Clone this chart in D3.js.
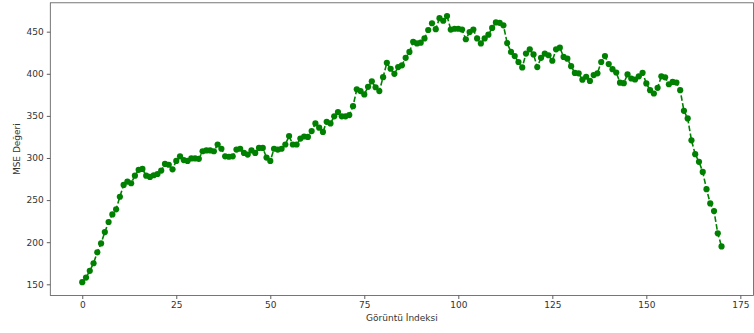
<!DOCTYPE html>
<html>
<head>
<meta charset="utf-8">
<script src="https://cdn.jsdelivr.net/npm/d3@7"></script>
<style>
  html, body { margin: 0; padding: 0; background: #fff; }
  svg { display: block; }
  .tick text { font-family: "DejaVu Sans", sans-serif; font-size: 9px; fill: #333; }
  .axis-label { font-family: "DejaVu Sans", sans-serif; font-size: 9px; fill: #333; }
</style>
</head>
<body>
<svg id="chart" width="754" height="333"></svg>
<script>
// MSE value for each image index (0 .. 170)
const mseValues = [
  152.5, 158, 166, 175, 188, 198.5, 212, 224, 233, 239,
  254, 268, 272, 270, 279, 286, 287, 279, 277.5, 279.5,
  281, 285, 293, 292, 286.5, 296.5, 302, 297.5, 296.5, 299.5,
  299.5, 299, 308, 309, 309, 308, 316, 311, 302, 301.5,
  302, 310, 311, 306, 304, 309, 306, 312, 312, 300.5,
  296.5, 311, 310, 311, 316, 326, 316, 316, 323, 325.5,
  325, 332, 341, 336, 331, 343, 341, 349.5, 354.5, 349.5,
  349.5, 351, 361.5, 381.5, 379.5, 375.5, 384.5, 391, 384, 379.5,
  396, 413, 406, 400, 408, 410, 419, 426, 438, 436,
  437, 442, 452, 460, 453, 466, 463, 468.5, 452.5, 453.5,
  453.5, 452.5, 441, 449.5, 452.5, 442, 436, 442, 446.5, 454.5,
  461, 460.5, 457.5, 436.5, 426, 421, 414, 407.5, 424, 429,
  423, 408, 419, 424, 422, 415.5, 429, 431, 420, 418,
  409, 401, 400.5, 393, 396.5, 391.5, 398.5, 400.5, 414, 421,
  411.5, 405.5, 401.5, 389.5, 388.8, 399.3, 394.4, 393.2, 397, 401.2,
  388.5, 380.5, 376.6, 383.3, 397, 395.8, 387.6, 390.3, 389.6, 380.5,
  356, 347, 321, 304.5, 295.5, 283.5, 263, 246, 237, 210.5,
  195
];
const imageIndex = mseValues.map((_, i) => i);

const xTicks = [0, 25, 50, 75, 100, 125, 150, 175];
const yTicks = [150, 200, 250, 300, 350, 400, 450];

const xLabel = "Görüntü İndeksi";
const yLabel = "MSE Değeri";
const lineColor = "#008000";

const svg = d3.select("#chart");

const plot = { left: 50.3, right: 753.5, top: 2.8, bottom: 295.5 };

// 5% padding on both axes around the data extent
const xMin = d3.min(imageIndex), xMax = d3.max(imageIndex);
const xPad = (xMax - xMin) * 0.05;
const yMin = d3.min(mseValues), yMax = d3.max(mseValues);
const yPad = (yMax - yMin) * 0.05;

const x = d3.scaleLinear().domain([xMin - xPad, xMax + xPad]).range([plot.left, plot.right]);
const y = d3.scaleLinear().domain([yMin - yPad, yMax + yPad]).range([plot.bottom, plot.top]);

// axes
const xAxis = svg.append("g")
  .attr("transform", `translate(0,${plot.bottom})`)
  .call(d3.axisBottom(x).tickValues(xTicks).tickSize(3.5).tickPadding(3).tickFormat(d3.format("d")));
const yAxis = svg.append("g")
  .attr("transform", `translate(${plot.left},0)`)
  .call(d3.axisLeft(y).tickValues(yTicks).tickSize(3.5).tickPadding(3).tickFormat(d3.format("d")));

[xAxis, yAxis].forEach(g => {
  g.select(".domain").remove();
  g.selectAll(".tick line").attr("stroke", "#333").attr("stroke-width", 0.8);
});

// frame around the plotting area
svg.append("rect")
  .attr("x", plot.left).attr("y", plot.top)
  .attr("width", plot.right - plot.left).attr("height", plot.bottom - plot.top)
  .attr("fill", "none").attr("stroke", "#555").attr("stroke-width", 0.8);

// dashed line through the points
const line = d3.line().x((d, i) => x(imageIndex[i])).y(d => y(d));
svg.append("path")
  .datum(mseValues)
  .attr("d", line)
  .attr("fill", "none")
  .attr("stroke", lineColor)
  .attr("stroke-width", 1.6)
  .attr("stroke-dasharray", "5.5,2.4");

// circle markers
svg.append("g")
  .selectAll("circle")
  .data(mseValues)
  .join("circle")
  .attr("cx", (d, i) => x(imageIndex[i]))
  .attr("cy", d => y(d))
  .attr("r", 3.1)
  .attr("fill", lineColor);

// axis titles
svg.append("text")
  .attr("class", "axis-label")
  .attr("x", (plot.left + plot.right) / 2)
  .attr("y", 321)
  .attr("text-anchor", "middle")
  .text(xLabel);

svg.append("text")
  .attr("class", "axis-label")
  .attr("transform", `translate(20,${(plot.top + plot.bottom) / 2}) rotate(-90)`)
  .attr("text-anchor", "middle")
  .text(yLabel);
</script>
</body>
</html>
